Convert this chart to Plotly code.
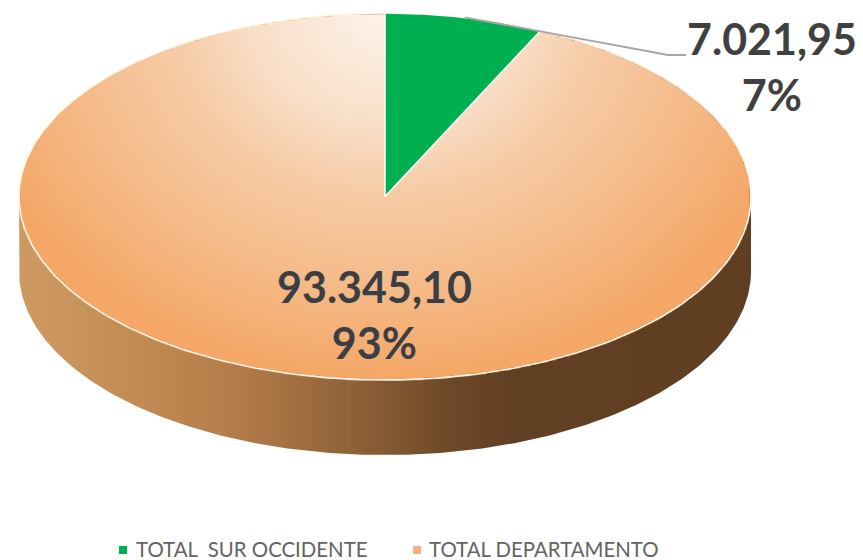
import numpy as np
import plotly.graph_objects as go

# --- data ---
categories = ["TOTAL\u00a0\u00a0SUR OCCIDENTE", "TOTAL DEPARTAMENTO"]
values = [7021.95, 93345.10]
slice_colors = ["#00B050", "#F4B183"]

# --- drawing geometry of the flattened disc (page pixels) ---
W, H = 863, 560
PAGE_MARGIN = 8  # the browser's default body margin
CX, CY, RX, RY, DEPTH = 385.0, 196.5, 366.0, 183.5, 75.0
FONT = "Lato, Open Sans, sans-serif"
LEGEND_Y = 549
LEGEND_MARK_X = [123, 417]
LEGEND_TEXT_X = [135, 428]

total = sum(values)
frac0 = values[0] / total


def rim(a, dy=0.0):
    """a = clockwise turn from 12 o'clock (radians)."""
    a = np.asarray(a, dtype=float)
    return CX + RX * np.sin(a), CY - RY * np.cos(a) + dy


def fmt(v):
    s = f"{v:,.2f}"
    return s.replace(",", "#").replace(".", ",").replace("#", ".")


# --- gradient field for the disc top and the side wall ---
top_stops = [(0.0, "#FDF3EA"), (0.3, "#F9DFC9"), (0.5, "#F6CBA5"), (0.75, "#F5BA88"), (1.0, "#F4A766")]
side_stops = [(0.0, "#CE9A63"), (0.15, "#C48C55"), (0.315, "#B07A47"), (0.5, "#845A34"),
              (0.59, "#6E4828"), (0.685, "#613F23"), (1.0, "#5F3E22")]

xs = np.arange(CX - RX - 4, CX + RX + 5, 2.0)
ys = np.arange(CY - RY - 4, CY + RY + DEPTH + 5, 2.0)
gx, gy = np.meshgrid(xs, ys)
dx = (gx - CX) / RX
t_top = np.clip(np.sqrt((0.85 * dx) ** 2 + ((gy - (CY - RY)) / (2 * RY)) ** 2), 0, 1)
t_side = np.clip((gx - (CX - RX)) / (2 * RX), 0, 1)
inside_top = dx ** 2 + ((gy - CY) / RY) ** 2 <= 1
field = np.where(inside_top, t_top, 2 + t_side).astype("float32")

scale = [[s[0] / 3, s[1]] for s in top_stops] + [[(2 + s[0]) / 3, s[1]] for s in side_stops]

fig = go.Figure()
fig.add_trace(go.Heatmap(x=xs, y=ys, z=field, zmin=0, zmax=3, colorscale=scale,
                         showscale=False, hoverinfo="skip", zsmooth="fast"))

# white mask around the disc silhouette (inner ring wound opposite to the outer ring)
upper = np.linspace(-np.pi / 2, np.pi / 2, 240)
lower = np.linspace(np.pi / 2, 3 * np.pi / 2, 240)
ux, uy = rim(upper)
lx, ly = rim(lower, DEPTH)
sx = np.concatenate([ux, lx, ux[:1]])[::-1]
sy = np.concatenate([uy, ly, uy[:1]])[::-1]
mx = np.concatenate([[0, 0, W, W, 0, 0], sx, [0]])
my = np.concatenate([[CY, 0, 0, H, H, CY], sy, [CY]])
fig.add_trace(go.Scatter(x=mx, y=my, mode="lines", fill="toself", fillcolor="white",
                         line=dict(width=0), hoverinfo="skip", showlegend=False))

# the orange slice outline (rim highlight), from the values
a_orange = np.linspace(2 * np.pi * frac0, 2 * np.pi, 400)
ox, oy = rim(a_orange)
fig.add_trace(go.Scatter(x=np.concatenate([[CX], ox]), y=np.concatenate([[CY], oy]),
                         mode="lines", line=dict(color="#FFF6EA", width=1.6),
                         hoverinfo="skip", showlegend=False))

# the green slice, from the values
a_green = np.linspace(0, 2 * np.pi * frac0, 60)
gx1, gy1 = rim(a_green)
fig.add_trace(go.Scatter(x=np.concatenate([[CX], gx1, [CX]]), y=np.concatenate([[CY], gy1, [CY]]),
                         mode="lines", fill="toself", fillcolor=slice_colors[0],
                         line=dict(color="#FBFBF5", width=1.6),
                         hoverinfo="skip", showlegend=False))

# leader line from the middle of the green slice's arc to its label
lead_x0, lead_y0 = rim(np.pi * frac0)
fig.add_trace(go.Scatter(x=[float(lead_x0), 668, 686], y=[float(lead_y0), 55, 55], mode="lines",
                         line=dict(color="#A6A6A6", width=1.8),
                         hoverinfo="skip", showlegend=False))

# legend, placed to sit as in the reference
fig.add_trace(go.Scatter(x=LEGEND_MARK_X, y=[LEGEND_Y + 1] * 2, mode="markers",
                         marker=dict(symbol="square", size=8, color=slice_colors),
                         hoverinfo="skip", showlegend=False))
for name, tx in zip(categories, LEGEND_TEXT_X):
    fig.add_annotation(x=tx, y=LEGEND_Y, text=name, showarrow=False, xanchor="left", yanchor="middle",
                       xshift=-1, font=dict(family=FONT, size=20.4, color="#636363"))

# data labels
labels = [f"{fmt(v)}<br>{round(v / total * 100)}%" for v in values]
fig.add_annotation(x=772, y=66, text=labels[0], showarrow=False, xanchor="center", yanchor="middle",
                   font=dict(family=FONT, size=43, color="#404040", weight="bold"))
fig.add_annotation(x=374, y=314, text=labels[1], showarrow=False, xanchor="center", yanchor="middle",
                   font=dict(family=FONT, size=43, color="#3B3F44", weight="bold"))

fig.update_layout(
    width=W - PAGE_MARGIN, height=H - PAGE_MARGIN, margin=dict(l=0, r=0, t=0, b=0, autoexpand=False),
    paper_bgcolor="white", plot_bgcolor="white", showlegend=False,
    xaxis=dict(range=[PAGE_MARGIN, W], visible=False, fixedrange=True),
    yaxis=dict(range=[H, PAGE_MARGIN], visible=False, fixedrange=True),
)
fig.write_html("out.html")
